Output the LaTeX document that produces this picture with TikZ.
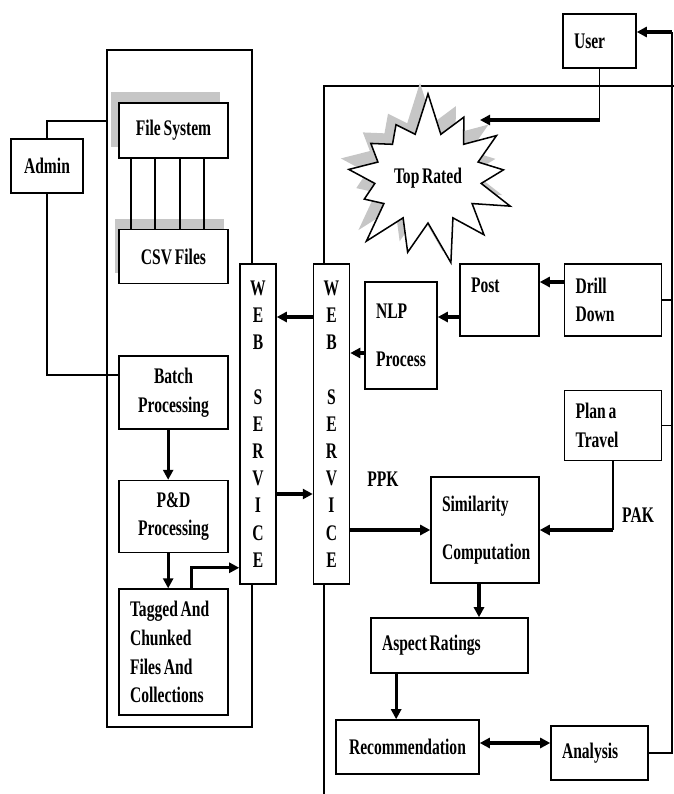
\documentclass[tikz,border=0pt]{standalone}
\usepackage{fontspec}
\setmainfont{Liberation Serif}[FakeStretch=0.7, WordSpace=0.7]
\usetikzlibrary{arrows.meta, positioning, shapes.symbols, shadows}

\begin{document}
\begin{tikzpicture}[
    x=0.3mm, y=-0.3mm,
    font=\fontsize{19}{24.5}\selectfont\bfseries,
    node distance=10mm and 7mm,
    box/.style={
        rectangle, draw=black, line width=1.3pt, fill=white,
        inner xsep=3.3mm, inner ysep=0pt, align=center
    },
    lbox/.style={box, align=flush left, text width=#1},
    ws/.style={
        box, minimum width=10.8mm, minimum height=96mm, inner xsep=0pt,
        font=\fontsize{19}{23.2}\selectfont\bfseries
    },
    shd/.style={drop shadow={shadow xshift=#1, shadow yshift=3.3mm, fill=gray!45, opacity=1}},
    shd/.default=-2.4mm,
    link/.style={line width=1.3pt},
    arr/.style={-{Triangle[length=3mm, width=3mm]}, line width=2.6pt},
    both/.style={arr, {Triangle[length=3mm, width=3mm]}-{Triangle[length=3mm, width=3mm]}},
    tag/.style={inner sep=0pt},
]
\useasboundingbox (0,0) rectangle (674,794);

% Marcos de fondo
\draw[link] (107,50) rectangle (252,727);
\draw[link] (324,794) -- (324,86) -- (674,86);
\coordinate (panelL) at (107,121);
\coordinate (bus) at (672,32);
\coordinate (hit) at (480,120);

% Columna izquierda
\node[box, shd, minimum width=32.7mm, minimum height=16.5mm] (fs) at (173.5,130.5) {File System};
\node[box, shd=-1.2mm, minimum width=32.7mm, minimum height=16.2mm, below=21mm of fs] (csv) {CSV Files};
\node[box, minimum width=32.7mm, minimum height=21.9mm, below=21.3mm of csv] (batch) {Batch\\Processing};
\node[box, minimum width=32.7mm, minimum height=21.6mm, below=15mm of batch] (pd) {P\&D\\Processing};
\node[lbox=26.1mm, minimum height=37.8mm, below=10.5mm of pd] (tagged) {Tagged And\\Chunked\\Files And\\Collections};
\node[box, minimum width=21.6mm, minimum height=16.2mm] (admin) at (47,166) {Admin};

% Servicios web
\node[ws] (ws1) at (258,424) {W\\E\\B\\\mbox{}\\S\\E\\R\\V\\I\\C\\E};
\node[ws, right=10.8mm of ws1] (ws2) {W\\E\\B\\\mbox{}\\S\\E\\R\\V\\I\\C\\E};

% Lado derecho
\node[lbox=15.3mm, minimum height=16.2mm] (user) at (599.5,41) {User};
\node[starburst, draw, line width=1.3pt, fill=white, shd,
      starburst points=13, starburst point height=13mm, random starburst=7,
      minimum width=46mm, minimum height=53mm] (star) at (428,178) {Top Rated};
\node[lbox=17.1mm, minimum height=21.6mm] (post) at (499.5,300) {Post\\\mbox{}};
\node[lbox=22.5mm, minimum height=21.6mm, right=7.2mm of post] (drill) {Drill\\Down};
\node[lbox=15mm, minimum height=32.1mm] (nlp) at (401,335.5) {NLP\\[5.8mm]Process};
\node[lbox=22.5mm, minimum height=21mm, below=15.9mm of drill] (plan) {Plan a\\Travel};
\node[lbox=25.8mm, minimum height=31.8mm] (sim) at (485,530) {Similarity\\[5.8mm]Computation};
\node[lbox=40.5mm, minimum height=16.5mm] (aspect) at (449.5,645.5) {Aspect Ratings};
\node[box, minimum width=42.9mm, minimum height=16.2mm] (rec) at (407.5,747) {Recommendation};
\node[lbox=22.5mm, minimum height=16.2mm] (analysis) at (599.5,753) {Analysis};
\node[tag] (ppk) at (383,479) {PPK};
\node[tag] (pak) at (638,515) {PAK};

% Admin y archivos
\draw[link] (admin.north) |- (panelL);
\draw[link] (admin.south) |- ([yshift=5.25mm]batch.west);
\foreach \dx in {-12.75,-5.55,1.95,9.15}
  \draw[link] ([xshift=\dx mm]fs.south) -- ([xshift=\dx mm]csv.north);

% Flechas columna izquierda
\draw[arr] ([xshift=-1.6mm]batch.south) -- ([xshift=-1.6mm]pd.north);
\draw[arr] ([xshift=-1.6mm]pd.south) -- ([xshift=-1.6mm]tagged.north);
\draw[arr] ([xshift=5.3mm]tagged.north) |- ([yshift=5.1mm]ws1.south west);

% Entre servicios
\draw[arr] ([yshift=-21mm]ws1.east) -- ([yshift=-21mm]ws2.west);
\draw[arr] ([yshift=32.1mm]ws2.west) -- ([yshift=32.1mm]ws1.east);

% Flechas lado derecho
\draw[arr] ([yshift=5.4mm]drill.west) -- ([yshift=5.4mm]drill.west -| post.east);
\draw[arr] ([yshift=-5.1mm]post.west) -- ([yshift=-5.1mm]post.west -| nlp.east);
\draw[arr] ([yshift=-5.25mm]nlp.west) -- ([yshift=-5.25mm]nlp.west -| ws2.east);
\draw[arr] (sim.west -| ws2.east) -- (sim.west);
\draw[link] (plan.south) -- (plan.south |- sim.east);
\draw[arr] (plan.south |- sim.east) -- (sim.east);
\draw[arr] ([xshift=-1.8mm]sim.south) -- ([xshift=-1.8mm]sim.south |- aspect.north);
\draw[arr] ([xshift=-16mm]aspect.south) -- ([xshift=-16mm]aspect.south |- rec.north);
\draw[both] ([yshift=1.2mm]rec.east) -- ([yshift=1.2mm]rec.east -| analysis.west);

% Usuario y bus
\draw[link] (user.south) -- (user.south |- hit);
\draw[arr] (user.south |- hit) -- (hit);
\draw[link] (analysis.east) -| (bus);
\draw[arr] (bus) -- (bus -| user.east);
\draw[link] (drill.east) -- (drill.east -| bus);
\draw[link] (plan.east) -- (plan.east -| bus);

\end{tikzpicture}
\end{document}
